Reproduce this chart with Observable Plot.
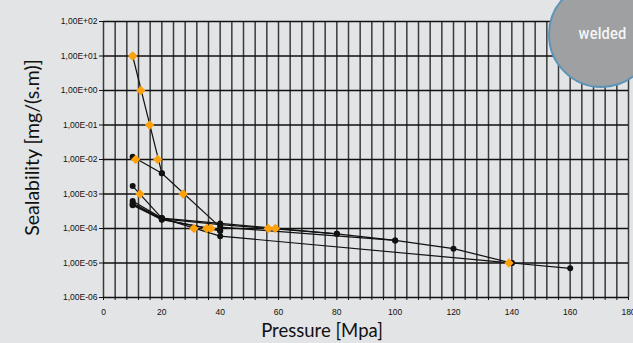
<!DOCTYPE html>
<html>
<head>
<meta charset="utf-8">
<script src="https://cdn.jsdelivr.net/npm/d3@7"></script>
<script src="https://cdn.jsdelivr.net/npm/@observablehq/plot@0.6"></script>
<style>
  html, body { margin: 0; padding: 0; }
  body { width: 633px; height: 343px; overflow: hidden; background: #e3e4e6; position: relative; }
  #chart { position: absolute; left: 0; top: 0; }
  #badge {
    position: absolute; left: 548px; top: -19px; width: 103px; height: 103px;
    border-radius: 50%; background: #9fa0a2; border: 2.5px solid #5a94b8;
    box-sizing: content-box;
  }
  #badge span {
    position: absolute; top: 40px; text-align: center;
    width: 103px; left: 1px;
    font-family: Roboto, "Open Sans", sans-serif; font-weight: 500; font-size: 17px;
    color: #f6f6f6; transform: scaleX(0.86); letter-spacing: 0.2px;
  }
</style>
</head>
<body>
<div id="chart"></div>
<div id="badge"><span>welded</span></div>
<script>
// ---- data ----
const s1Pressure = [10, 20, 40, 100, 120, 140, 160];
const s1Sealability = [1e1, 4e-3, 1.1e-4, 4.5e-5, 2.6e-5, 1e-5, 7e-6];

const s2Pressure = [10, 20];
const s2Sealability = [1.2e-2, 4e-3];

const s3Pressure = [10, 20, 40, 140];
const s3Sealability = [1.7e-3, 2e-4, 6e-5, 1e-5];

const s4Pressure = [10, 20, 40, 80, 100];
const s4Sealability = [6.3e-4, 2e-4, 1.4e-4, 7e-5, 4.5e-5];

const s5Pressure = [10, 20, 40, 80];
const s5Sealability = [5.5e-4, 1.9e-4, 1.3e-4, 7e-5];

const s6Pressure = [10, 20, 40];
const s6Sealability = [5e-4, 1.85e-4, 8.5e-5];

const s7Pressure = [10, 20, 40];
const s7Sealability = [4.7e-4, 1.8e-4, 8.8e-5];

// orange diamond markers
const markerPressure = [10, 12.8, 15.8, 18.6, 11, 12.5, 27.3, 31, 35.4, 36.8, 56.5, 58.9, 139];
const markerSealability = [1e1, 1e0, 1e-1, 1e-2, 1e-2, 1e-3, 1e-3, 1e-4, 1e-4, 1e-4, 1e-4, 1e-4, 1e-5];

// axes
const yTicks = [1e-6, 1e-5, 1e-4, 1e-3, 1e-2, 1e-1, 1e0, 1e1, 1e2];
const xLabels = [0, 20, 40, 60, 80, 100, 120, 140, 160, 180];
const xGrid = d3.range(0, 181, 4);
const xTitle = "Pressure [Mpa]";
const yTitle = "Sealability [mg/(s.m)]";

// ---- build table ----
const seriesList = [
  ["S1", s1Pressure, s1Sealability],
  ["S2", s2Pressure, s2Sealability],
  ["S3", s3Pressure, s3Sealability],
  ["S4", s4Pressure, s4Sealability],
  ["S5", s5Pressure, s5Sealability],
  ["S6", s6Pressure, s6Sealability],
  ["S7", s7Pressure, s7Sealability]
];
const rows = seriesList.flatMap(([name, ps, ss]) => ps.map((p, i) => ({series: name, p, s: ss[i]})));
const markers = markerPressure.map((p, i) => ({p, s: markerSealability[i]}));

const fmt = d => {
  const e = Math.round(Math.log10(d));
  return "1,00E" + (e < 0 ? "-" : "+") + String(Math.abs(e)).padStart(2, "0");
};
const titleFont = "Lato, 'Open Sans', sans-serif";

const chart = Plot.plot({
  width: 633,
  height: 343,
  marginLeft: 103,
  marginRight: 5,
  marginTop: 21,
  marginBottom: 46,
  style: {background: "transparent", fontFamily: "'Liberation Sans', Arial, sans-serif", fontSize: "8.5px", color: "#111"},
  x: {domain: [0, 180]},
  y: {type: "log", domain: [1e-6, 1e2]},
  marks: [
    Plot.gridX(xGrid, {stroke: "#3a3a3a", strokeOpacity: 1, strokeWidth: 1.5}),
    Plot.gridY(yTicks, {stroke: "#111", strokeOpacity: 1, strokeWidth: 1.5}),
    Plot.axisX(xGrid, {tickSize: 3, tickPadding: 8, tickFormat: d => (xLabels.includes(d) ? String(d) : ""), label: null, stroke: "#111"}),
    Plot.axisY(yTicks, {tickSize: 4, tickPadding: 2, tickFormat: fmt, label: null, stroke: "#111"}),
    Plot.line(rows, {x: "p", y: "s", z: "series", stroke: "#111", strokeWidth: 1.2}),
    Plot.dot(rows, {x: "p", y: "s", fill: "#111", r: 3}),
    Plot.dot(markers, {x: "p", y: "s", symbol: "diamond2", fill: "#ffa10a", r: 4.2}),
    Plot.text([yTitle], {frameAnchor: "left", textAnchor: "middle", rotate: -90, dx: -71, dy: -12, fontSize: 19.5, fontFamily: titleFont, fill: "#111", lineAnchor: "middle"}),
    Plot.text([xTitle], {frameAnchor: "bottom", textAnchor: "middle", dx: -44, dy: 34, fontSize: 18.5, fontFamily: titleFont, fill: "#111", lineAnchor: "middle"})
  ]
});
document.getElementById("chart").appendChild(chart);
</script>
</body>
</html>
